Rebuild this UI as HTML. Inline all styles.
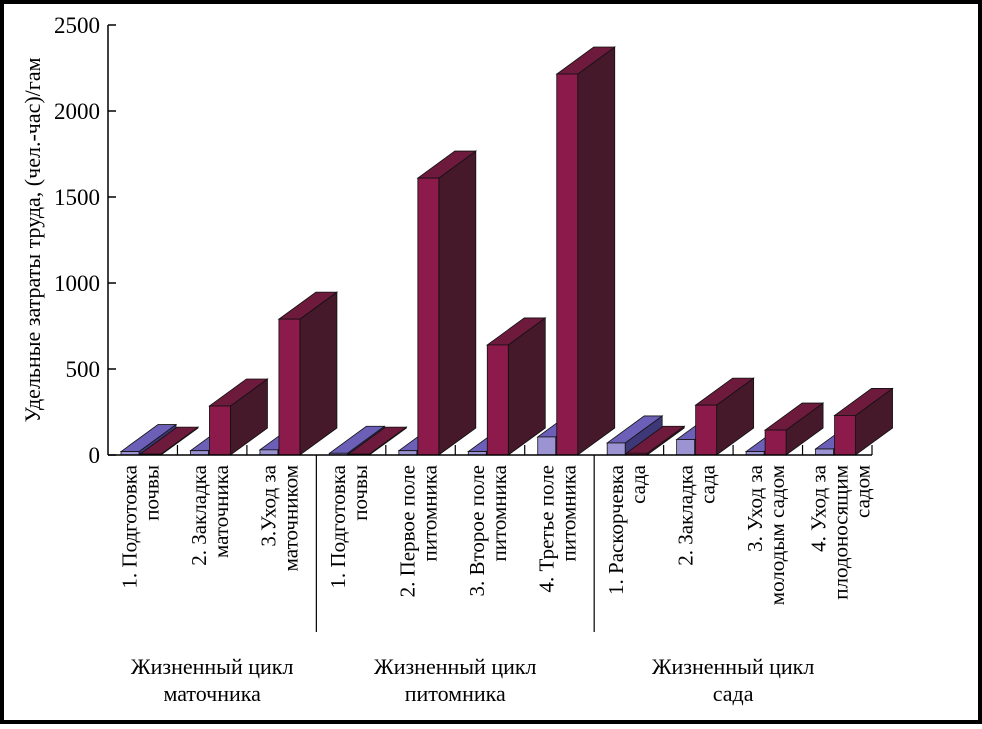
<!DOCTYPE html>
<html><head><meta charset="utf-8"><style>
html,body{margin:0;padding:0;background:#fff}
svg, svg text{font-family:"Liberation Serif","DejaVu Serif",serif}
</style></head><body>
<svg id="chart" width="982" height="724" viewBox="0 0 982 724" font-family="Liberation Serif, serif">
<rect x="2" y="2" width="978" height="720" fill="#fff" stroke="#000" stroke-width="4"/>
<g id="plot"></g>
</svg>
<script>
const categories=[["1. Подготовка","почвы"],["2. Закладка","маточника"],["3.Уход за","маточником"],["1. Подготовка","почвы"],["2. Первое поле","питомника"],["3. Второе поле","питомника"],["4. Третье поле","питомника"],["1. Раскорчевка","сада"],["2. Закладка","сада"],["3. Уход за","молодым садом"],["4. Уход за","плодоносящим","садом"]];
const blueValues=[20,25,30,10,25,20,105,70,90,20,35];
const redValues=[5,285,790,5,1610,640,2215,10,290,145,230];
const yTicks=[0,500,1000,1500,2000,2500];
const groups=[["Жизненный цикл","маточника"],["Жизненный цикл","питомника"],["Жизненный цикл","сада"]];
const groupSizes=[3,4,4];

const NS="http://www.w3.org/2000/svg";
const g=document.getElementById('plot');
const X0=108,X1=872,Y0=455,Y1=25,YMAX=2500;
const step=(X1-X0)/categories.length;
const yScale=v=>Y0-(v/YMAX)*(Y0-Y1);
const xCat=i=>X0+i*step;
const FF='Liberation Serif, serif';
function mk(tag,attrs,parent){const e=document.createElementNS(NS,tag);for(const k in attrs)e.setAttribute(k,attrs[k]);(parent||g).appendChild(e);return e;}
const DX=37,DY=-27;
function bar3d(x,w,v,cf,ct,cs,name){
  const y=yScale(v);
  const grp=mk('g',{});
  
  
  mk('polygon',{points:`${x+w},${y} ${x+w+DX},${y+DY} ${x+w+DX},${Y0+DY} ${x+w},${Y0}`,fill:cs,stroke:'#111','stroke-width':0.8},grp);
  mk('polygon',{points:`${x},${y} ${x+DX},${y+DY} ${x+w+DX},${y+DY} ${x+w},${y}`,fill:ct,stroke:'#111','stroke-width':0.8},grp);
  mk('rect',{x:x,y:y,width:w,height:Y0-y,fill:cf,stroke:'#111','stroke-width':0.8},grp);
}
let ax=mk('line',{x1:X0,y1:Y1,x2:X0,y2:Y0,stroke:'#000','stroke-width':1.5});

yTicks.forEach(t=>{
  const y=yScale(t);
  mk('line',{x1:X0,y1:y,x2:X0+8,y2:y,stroke:'#000','stroke-width':1.5});
  const tx=mk('text',{x:X0-8,y:y+8,'text-anchor':'end','font-size':23,'font-family':FF});
  tx.textContent=t;
  
});
const yt=mk('text',{transform:'translate(40,240) rotate(-90)','text-anchor':'middle','font-size':22,'font-family':FF});
yt.textContent='Удельные затраты труда, (чел.-час)/гам';

categories.forEach((c,i)=>{
  const x=xCat(i);
  bar3d(x+13,18,blueValues[i],'#9b93d2','#6c5fb8','#3e3878','bar-blue-'+i);
  bar3d(x+32,21,redValues[i],'#8c1a4b','#6d1a3d','#45182a','bar-red-'+i);
});
const xa=mk('line',{x1:X0,y1:Y0,x2:X1,y2:Y0,stroke:'#000','stroke-width':1.5});

let bi=0;const bounds=[];groupSizes.forEach(s=>{bi+=s;bounds.push(bi);});
for(let i=1;i<=categories.length;i++){
  const x=xCat(i);
  const long=bounds.includes(i)&&i<categories.length;
  mk('line',{x1:x,y1:Y0,x2:x,y2:long?632:445,stroke:'#000','stroke-width':1.2});
}
categories.forEach((c,i)=>{
  const cx=xCat(i)+step/2;
  const n=c.length;
  c.forEach((line,j)=>{
    const x=cx+(n===3?-12:-6)+j*22;
    const t=mk('text',{transform:`translate(${x},465) rotate(-90)`,'text-anchor':'end','font-size':21,'font-family':FF});
    t.textContent=line;
    
  });
});
let start=0;
groups.forEach((gl,k)=>{
  const cx=(xCat(start)+xCat(start+groupSizes[k]))/2;
  start+=groupSizes[k];
  gl.forEach((line,j)=>{
    const t=mk('text',{x:cx,y:674+j*27,'text-anchor':'middle','font-size':22,'font-family':FF});
    t.textContent=line;
    
  });
});
</script>
</body></html>
